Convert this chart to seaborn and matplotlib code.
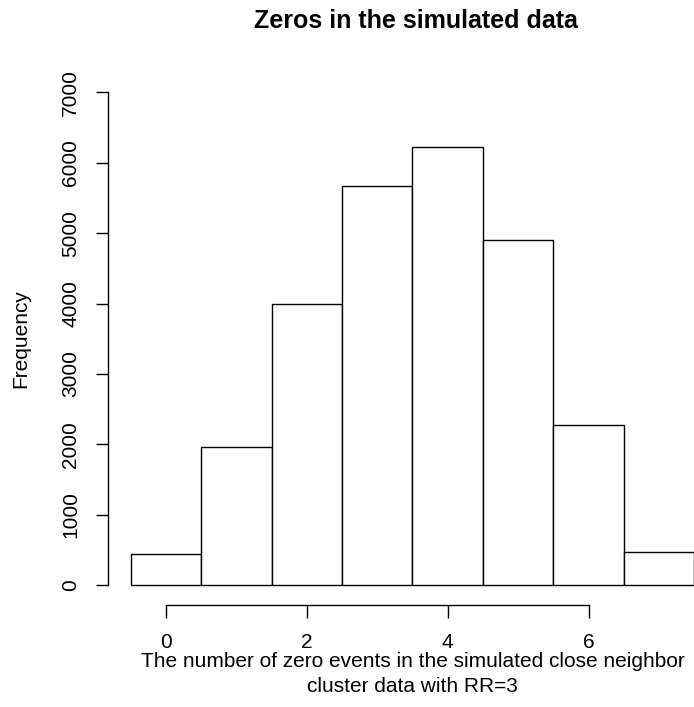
import matplotlib
matplotlib.use("Agg")
import matplotlib.pyplot as plt
import seaborn as sns
import pandas as pd

zeros = [0, 1, 2, 3, 4, 5, 6, 7]
frequency = [450, 1960, 3990, 5665, 6225, 4895, 2280, 475]
xticks = [0, 2, 4, 6]
yticks = [0, 1000, 2000, 3000, 4000, 5000, 6000, 7000]

df = pd.DataFrame({"zeros": zeros, "frequency": frequency})

sns.set_style("ticks")
plt.rcParams["font.family"] = ["Liberation Sans", "DejaVu Sans"]
plt.rcParams["text.color"] = "black"
plt.rcParams["axes.labelcolor"] = "black"
plt.rcParams["xtick.color"] = "black"
plt.rcParams["ytick.color"] = "black"

fig = plt.figure(figsize=(6.94, 7.07), dpi=100)
ax = fig.add_axes([108 / 694, 102 / 707, (717 - 108) / 694, (605 - 72.5) / 707])

sns.histplot(data=df, x="zeros", weights="frequency", discrete=True,
             color="white", edgecolor="black", linewidth=1.0, alpha=1,
             ax=ax)

ax.set_xlim(-0.82, 7.82)
ax.set_ylim(-280, 7280)
ax.set_xticks(xticks)
ax.set_yticks(yticks)
ax.set_xticklabels([str(t) for t in xticks], fontsize=15)
ax.set_yticklabels([str(t) for t in yticks], fontsize=15, rotation=90, va="center")
ax.tick_params(axis="both", length=9, width=1.0, color="black")
ax.tick_params(axis="x", pad=11)
ax.tick_params(axis="y", pad=11)

for s in ["top", "right"]:
    ax.spines[s].set_visible(False)
ax.spines["left"].set_bounds(0, 7000)
ax.spines["bottom"].set_bounds(0, 6)
for s in ["left", "bottom"]:
    ax.spines[s].set_linewidth(1.0)
    ax.spines[s].set_color("black")

ax.set_xlabel("The number of zero events in the simulated close neighbor\ncluster data with RR=3",
              fontsize=15, labelpad=0, linespacing=1.42)
ax.set_ylabel("Frequency", fontsize=15, labelpad=22)
fig.text(416 / 694, 1 - 21 / 707, "Zeros in the simulated data", ha="center", va="center",
         fontsize=18, fontweight="bold")

fig.savefig("out.png", dpi=100)
